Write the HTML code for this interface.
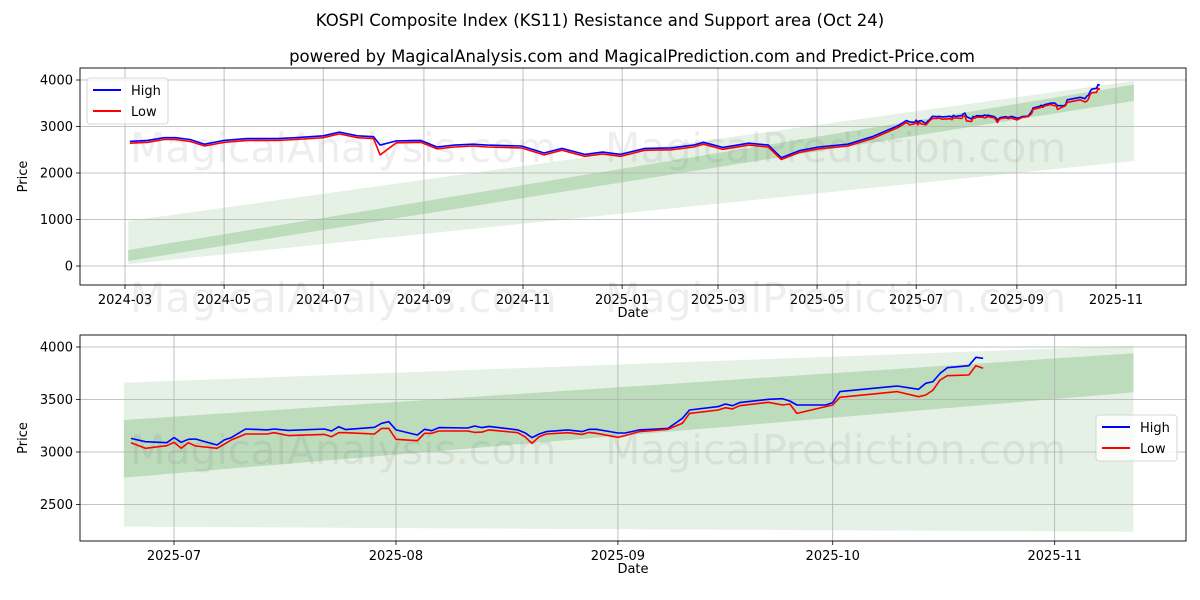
<!DOCTYPE html>
<html><head><meta charset="utf-8"><style>
html,body{margin:0;padding:0;background:#fff;}
svg{display:block;font-family:"DejaVu Sans","Liberation Sans",sans-serif;}
</style></head><body>
<svg id="chart" width="1200" height="600" viewBox="0 0 1200 600" xmlns="http://www.w3.org/2000/svg">
<rect width="1200" height="600" fill="#fff"/>
<text x="600" y="26" text-anchor="middle" font-size="16.5" fill="#000">KOSPI Composite Index (KS11) Resistance and Support area (Oct 24)</text>
<text x="632" y="62" text-anchor="middle" font-size="16.5" fill="#000">powered by MagicalAnalysis.com and MagicalPrediction.com and Predict-Price.com</text>
<g id="top"></g>
<g id="bot"></g>
</svg>
<script>
// ---- data ----
const histDates = ["2024-03-04","2024-03-15","2024-03-25","2024-04-01","2024-04-10","2024-04-19","2024-05-01","2024-05-15","2024-06-03","2024-06-14","2024-07-01","2024-07-11","2024-07-22","2024-08-01","2024-08-05","2024-08-15","2024-08-30","2024-09-09","2024-09-20","2024-10-01","2024-10-10","2024-10-31","2024-11-14","2024-11-25","2024-12-09","2024-12-20","2024-12-31","2025-01-15","2025-01-31","2025-02-14","2025-02-20","2025-03-04","2025-03-20","2025-04-01","2025-04-09","2025-04-20","2025-05-02","2025-05-20","2025-06-04","2025-06-20"];
const histHigh = [2680,2700,2760,2760,2720,2620,2700,2740,2740,2760,2800,2880,2800,2780,2600,2690,2700,2560,2600,2620,2600,2580,2430,2530,2400,2450,2400,2530,2540,2600,2660,2550,2640,2600,2330,2480,2560,2620,2780,3020];
const histLow = [2640,2660,2720,2720,2680,2580,2660,2700,2700,2720,2760,2840,2760,2740,2390,2650,2660,2520,2560,2580,2560,2540,2390,2490,2360,2410,2360,2490,2500,2560,2620,2510,2600,2560,2290,2440,2520,2580,2740,2980];
const recentDates = ["2025-06-25","2025-06-27","2025-06-30","2025-07-01","2025-07-02","2025-07-03","2025-07-04","2025-07-07","2025-07-08","2025-07-09","2025-07-11","2025-07-14","2025-07-15","2025-07-17","2025-07-22","2025-07-23","2025-07-24","2025-07-25","2025-07-29","2025-07-30","2025-07-31","2025-08-01","2025-08-04","2025-08-05","2025-08-06","2025-08-07","2025-08-11","2025-08-12","2025-08-13","2025-08-14","2025-08-18","2025-08-19","2025-08-20","2025-08-21","2025-08-22","2025-08-25","2025-08-27","2025-08-28","2025-08-29","2025-09-01","2025-09-02","2025-09-04","2025-09-08","2025-09-10","2025-09-11","2025-09-15","2025-09-16","2025-09-17","2025-09-18","2025-09-22","2025-09-24","2025-09-25","2025-09-26","2025-09-30","2025-10-01","2025-10-02","2025-10-10","2025-10-13","2025-10-14","2025-10-15","2025-10-16","2025-10-17","2025-10-20","2025-10-21","2025-10-22"];
const recentHigh = [3130,3098,3089,3137,3092,3121,3124,3067,3114,3137,3219,3210,3219,3206,3219,3200,3241,3213,3235,3273,3289,3210,3162,3216,3203,3232,3229,3248,3232,3244,3210,3184,3137,3171,3194,3210,3194,3216,3216,3181,3181,3210,3225,3321,3400,3432,3457,3441,3470,3502,3508,3486,3448,3448,3470,3575,3629,3597,3654,3670,3749,3803,3822,3902,3892];
const recentLow = [3089,3035,3060,3092,3035,3089,3057,3035,3073,3114,3171,3171,3184,3156,3168,3146,3184,3184,3171,3225,3225,3121,3108,3178,3178,3200,3200,3187,3190,3210,3184,3146,3083,3146,3171,3184,3168,3187,3178,3140,3156,3194,3216,3273,3368,3400,3422,3410,3441,3473,3448,3457,3368,3432,3448,3521,3575,3527,3543,3590,3686,3727,3733,3822,3797];
const topBandDates = ["2024-03-03","2025-11-12"];
const topOuterTop = [968,3980];
const topOuterBot = [40,2258];
const topInnerTop = [345,3900];
const topInnerBot = [108,3550];
const botBandDates = ["2025-06-24","2025-11-12"];
const botOuterTop = [3660,4013];
const botOuterBot = [2289,2241];
const botInnerTop = [3305,3940];
const botInnerBot = [2756,3568];
const topYTicks = [0,1000,2000,3000,4000];
const topXTicks = ["2024-03","2024-05","2024-07","2024-09","2024-11","2025-01","2025-03","2025-05","2025-07","2025-09","2025-11"];
const botYTicks = [2500,3000,3500,4000];
const botXTicks = ["2025-07","2025-08","2025-09","2025-10","2025-11"];

const NS="http://www.w3.org/2000/svg";
const DAY=86400000;
function t(s){ if(s.length===7) s+= "-01"; return Date.parse(s+"T00:00:00Z")/DAY; }
function mk(parent,tag,attrs){const e=document.createElementNS(NS,tag);for(const k in attrs)e.setAttribute(k,attrs[k]);parent.appendChild(e);return e;}

function panel(g,cfg){
  const {L,R,T,B,x,y,yTicks,xTicks,dates,high,low,outerT,outerB,innerT,innerB,bandDates,legendX,legendY,wmY,wm2Y}=cfg;
  const bx0=x(t(bandDates[0])), bx1=x(t(bandDates[1]));
  let p=mk(g,"polygon",{points:`${bx0},${y(outerT[0])} ${bx1},${y(outerT[1])} ${bx1},${y(outerB[1])} ${bx0},${y(outerB[0])}`,fill:"#e5f1e5"});
  
  
  p=mk(g,"polygon",{points:`${bx0},${y(innerT[0])} ${bx1},${y(innerT[1])} ${bx1},${y(innerB[1])} ${bx0},${y(innerB[0])}`,fill:"#bcdcbc"});
  
  
  yTicks.forEach(v=>{
    const yy=y(v);
    const l=mk(g,"line",{x1:L,x2:R,y1:yy,y2:yy,stroke:"#b0b0b0","stroke-width":0.8});
    
    
    mk(g,"line",{x1:L-4,x2:L,y1:yy,y2:yy,stroke:"#000","stroke-width":0.8});
    const tx=mk(g,"text",{x:L-7,y:yy+4.5,"text-anchor":"end","font-size":13});
    tx.textContent=v;
    
    
  });
  xTicks.forEach(s=>{
    const xx=x(t(s));
    const l=mk(g,"line",{x1:xx,x2:xx,y1:T,y2:B,stroke:"#b0b0b0","stroke-width":0.8});
    
    
    mk(g,"line",{x1:xx,x2:xx,y1:B,y2:B+4,stroke:"#000","stroke-width":0.8});
    const tx=mk(g,"text",{x:xx,y:B+19,"text-anchor":"middle","font-size":13});
    tx.textContent=s;
    
    
  });
  [wmY,wm2Y].forEach(wy=>{
    const a=mk(g,"text",{x:130,y:wy,"font-size":41,fill:"rgba(120,120,120,0.13)"});a.textContent="MagicalAnalysis.com";
    
    
    const b=mk(g,"text",{x:605,y:wy,"font-size":41,fill:"rgba(120,120,120,0.13)"});b.textContent="MagicalPrediction.com";
    
    
  });
  const ptsH=dates.map((d,i)=>`${x(t(d)).toFixed(1)},${y(high[i]).toFixed(1)}`).join(" ");
  const ptsL=dates.map((d,i)=>`${x(t(d)).toFixed(1)},${y(low[i]).toFixed(1)}`).join(" ");
  const lh=mk(g,"polyline",{points:ptsH,fill:"none",stroke:"#0000ff","stroke-width":1.6,"stroke-linejoin":"round"});
  
  
  const ll=mk(g,"polyline",{points:ptsL,fill:"none",stroke:"#ff0000","stroke-width":1.6,"stroke-linejoin":"round"});
  
  
  const fr=mk(g,"rect",{x:L,y:T,width:R-L,height:B-T,fill:"none",stroke:"#000","stroke-width":0.9});
  
  
  const xt=mk(g,"text",{x:(L+R)/2,y:B+32,"text-anchor":"middle","font-size":13});xt.textContent="Date";
  
  
  const yt=mk(g,"text",{x:27,y:(T+B)/2,"text-anchor":"middle","font-size":13,transform:`rotate(-90 27 ${(T+B)/2})`});yt.textContent="Price";
  
  
  const lg=mk(g,"g",{});
  
  
  mk(lg,"rect",{x:legendX,y:legendY,width:81,height:46,rx:3,fill:"rgba(255,255,255,0.8)",stroke:"#ccc","stroke-width":0.8});
  [["High","#0000ff"],["Low","#ff0000"]].forEach(([n,c],i)=>{
    const e=mk(lg,"g",{});
    
    
    const yy=legendY+12+i*21;
    mk(e,"line",{x1:legendX+6,x2:legendX+34,y1:yy,y2:yy,stroke:c,"stroke-width":2});
    const tx=mk(e,"text",{x:legendX+44,y:yy+5,"font-size":13});tx.textContent=n;
  });
}

const top0=t("2024-03-01"), bot0=t("2025-07-01");
panel(document.getElementById("top"),{
  L:80,R:1186,T:68,B:285,
  x:d=>125+(d-top0)*1.6246, y:v=>266-v*0.0465,
  yTicks:topYTicks,xTicks:topXTicks,
  dates:histDates.concat(recentDates),high:histHigh.concat(recentHigh),low:histLow.concat(recentLow),
  outerT:topOuterTop,outerB:topOuterBot,innerT:topInnerTop,innerB:topInnerBot,bandDates:topBandDates,
  legendX:87,legendY:78,wmY:162,wm2Y:312
});
panel(document.getElementById("bot"),{
  L:80,R:1186,T:335,B:541,
  x:d=>174+(d-bot0)*7.16, y:v=>452-(v-3000)*0.105,
  yTicks:botYTicks,xTicks:botXTicks,
  dates:recentDates,high:recentHigh,low:recentLow,
  outerT:botOuterTop,outerB:botOuterBot,innerT:botInnerTop,innerB:botInnerBot,bandDates:botBandDates,
  legendX:1096,legendY:415,wmY:464,wm2Y:-100
});
</script>
</body></html>
